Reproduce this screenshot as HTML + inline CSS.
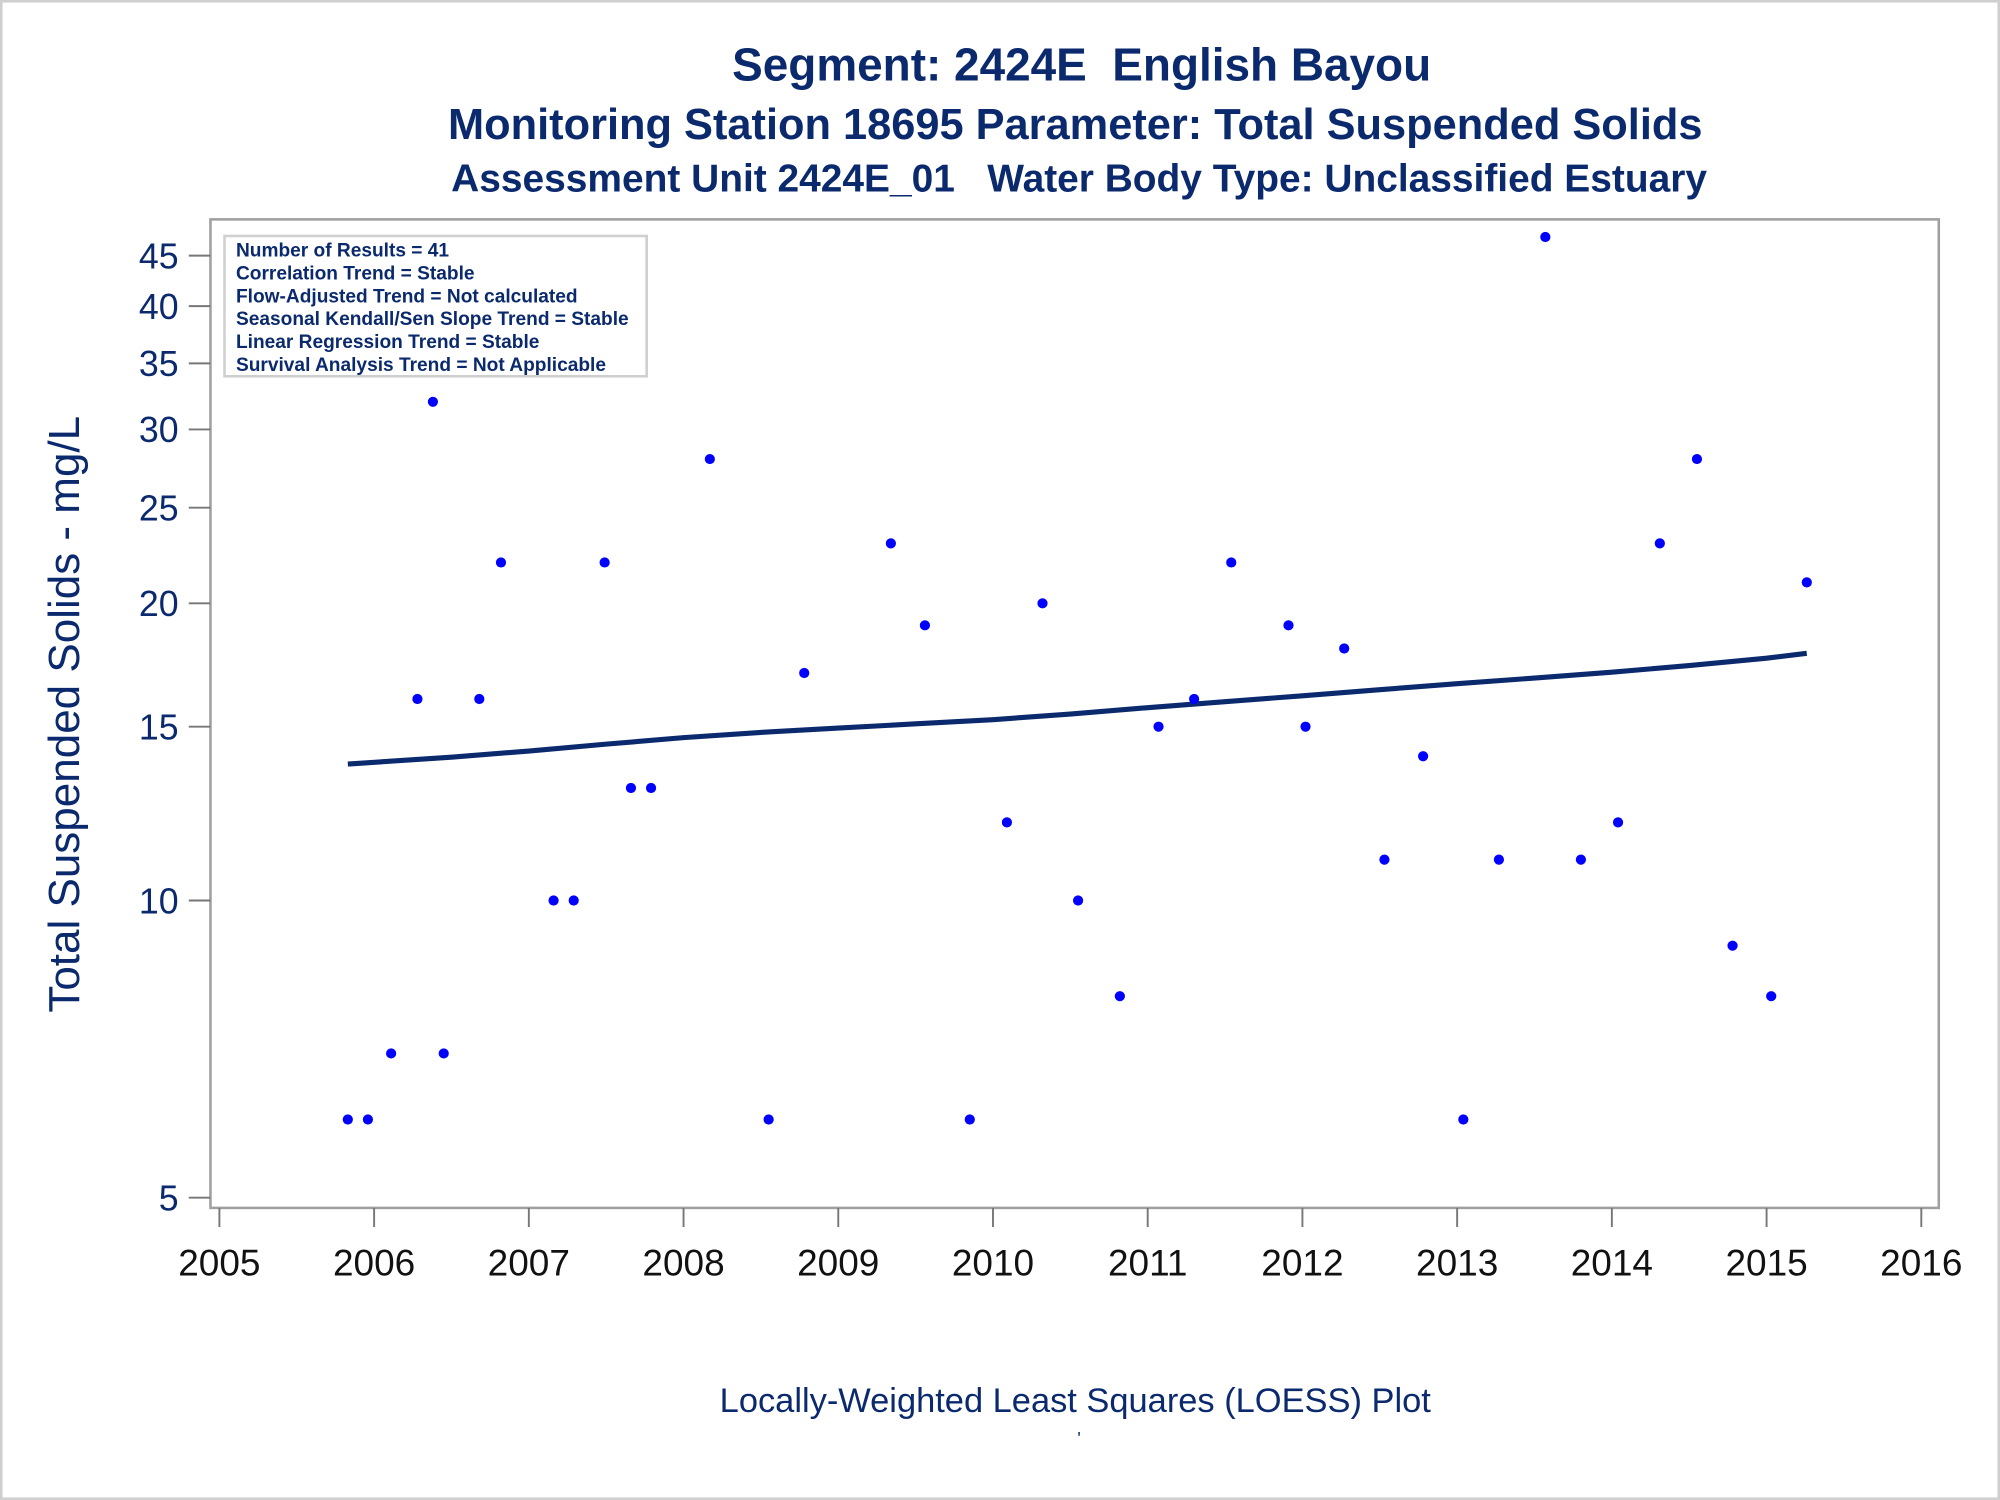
<!DOCTYPE html>
<html><head><meta charset="utf-8"><style>
html,body{margin:0;padding:0;background:#fff}
svg{display:block;font-family:"Liberation Sans",sans-serif}
</style></head><body>
<svg id="chart" width="2000" height="1500" viewBox="0 0 1568 1176" xmlns="http://www.w3.org/2000/svg">
<rect x="1" y="1" width="1566" height="1174" fill="#fff" stroke="#cfcfcf" stroke-width="2"/>
<g fill="#0b2a6e" font-weight="bold" text-anchor="middle">
<text x="848" y="63" font-size="36" xml:space="preserve">Segment: 2424E  English Bayou</text>
<text x="843" y="109" font-size="34">Monitoring Station 18695 Parameter: Total Suspended Solids</text>
<text x="846" y="150" font-size="30.5" xml:space="preserve">Assessment Unit 2424E_01   Water Body Type: Unclassified Estuary</text>
</g>
<rect x="165" y="172" width="1355" height="775" fill="none" stroke="#a0a0a0" stroke-width="2"/>
<g id="yaxis"></g>
<g id="xaxis"></g>
<text transform="translate(62,560) rotate(-90)" text-anchor="middle" font-size="34.5" fill="#0b2a6e">Total Suspended Solids - mg/L</text>
<text x="843" y="1107" text-anchor="middle" font-size="27" fill="#0b2a6e">Locally-Weighted Least Squares (LOESS) Plot</text>
<text x="846" y="1132" text-anchor="middle" font-size="14" fill="#0b2a6e">'</text>
<g id="marks"></g>
<g>
<rect x="176" y="185" width="331" height="110" fill="#fff" stroke="#cfcfcf" stroke-width="2"/>
<g font-size="15" font-weight="bold" fill="#0b2a6e">
<text x="185" y="201">Number of Results = 41</text>
<text x="185" y="219">Correlation Trend = Stable</text>
<text x="185" y="237">Flow-Adjusted Trend = Not calculated</text>
<text x="185" y="255">Seasonal Kendall/Sen Slope Trend = Stable</text>
<text x="185" y="273">Linear Regression Trend = Stable</text>
<text x="185" y="291">Survival Analysis Trend = Not Applicable</text>
</g></g>
</svg>
<script>
const xTicks = [2005,2006,2007,2008,2009,2010,2011,2012,2013,2014,2015,2016];
const yTicks = [5,10,15,20,25,30,35,40,45];
const dates = [2005.83,2005.96,2006.11,2006.28,2006.38,2006.45,2006.68,2006.82,2007.16,2007.29,2007.49,2007.66,2007.79,2008.17,2008.55,2008.78,2009.34,2009.56,2009.85,2010.09,2010.32,2010.55,2010.82,2011.07,2011.30,2011.54,2011.91,2012.02,2012.27,2012.53,2012.78,2013.04,2013.27,2013.57,2013.80,2014.04,2014.31,2014.55,2014.78,2015.03,2015.26];
const values = [6,6,7,16,32,7,16,22,10,10,22,13,13,28,6,17,23,19,6,12,20,10,8,15,16,22,19,15,18,11,14,6,11,47,11,12,23,28,9,8,21];
const trendDates = [2005.83,2006.5,2007,2007.5,2008,2008.5,2009,2009.5,2010,2010.5,2011,2011.5,2012,2012.5,2013,2013.5,2014,2014.5,2015,2015.26];
const trendValues = [13.75,13.97,14.17,14.4,14.62,14.8,14.95,15.1,15.25,15.45,15.68,15.9,16.12,16.35,16.58,16.8,17.03,17.3,17.6,17.8];
const NS="http://www.w3.org/2000/svg";
function xs(d){return 172+(d-2005)*121.3;}
function ys(v){return 939-Math.log10(v/5)*774;}
function mk(tag,attrs,parent){const e=document.createElementNS(NS,tag);for(const k in attrs)e.setAttribute(k,attrs[k]);parent.appendChild(e);return e;}
const ya=document.getElementById('yaxis'), xa=document.getElementById('xaxis'), mg=document.getElementById('marks');
yTicks.forEach(v=>{
  const y=ys(v);
  const t=mk('line',{x1:148,x2:165,y1:y,y2:y,stroke:'#777','stroke-width':1.5},ya);
  
  
  const l=mk('text',{x:140,y:y+10,'text-anchor':'end','font-size':28,fill:'#0b2a6e'},ya);
  l.textContent=v;
  
  
});
xTicks.forEach(d=>{
  const x=xs(d);
  const t=mk('line',{x1:x,x2:x,y1:947,y2:962,stroke:'#777','stroke-width':1.5},xa);
  
  
  const l=mk('text',{x:x,y:1000,'text-anchor':'middle','font-size':29,fill:'#111'},xa);
  l.textContent=d;
  
  
});
const pts=trendDates.map((d,i)=>xs(d).toFixed(1)+','+ys(trendValues[i]).toFixed(1)).join(' ');
const tl=mk('polyline',{points:pts,fill:'none',stroke:'#0b2a6e','stroke-width':4},mg);


dates.forEach((d,i)=>{
  const c=mk('circle',{cx:xs(d),cy:ys(values[i]),r:4,fill:'#0000ff'},mg);
  
  
});
</script>
</body></html>
